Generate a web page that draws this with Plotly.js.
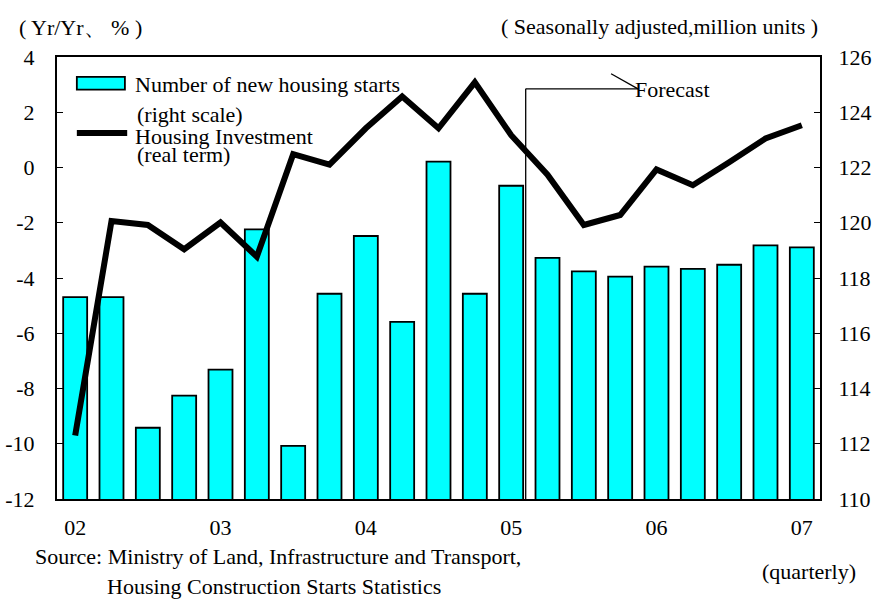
<!DOCTYPE html>
<html>
<head>
<meta charset="utf-8">
<script src="https://cdn.plot.ly/plotly-3.0.1.min.js"></script>
<style>
html,body{margin:0;padding:0;background:#fff;}
#chart{width:872px;height:599px;}
</style>
</head>
<body>
<div id="chart"></div>
<script>
// ---- data ----
const quarters = ["02Q1","02Q2","02Q3","02Q4","03Q1","03Q2","03Q3","03Q4","04Q1","04Q2","04Q3","04Q4",
                  "05Q1","05Q2","05Q3","05Q4","06Q1","06Q2","06Q3","06Q4","07Q1"];
const housingStarts = [117.31,117.31,112.58,113.74,114.68,119.76,111.92,117.43,119.52,116.41,122.21,117.43,
                       121.34,118.73,118.24,118.05,118.41,118.33,118.48,119.18,119.11];
const housingInvestment = [-9.7,-1.94,-2.08,-2.96,-1.99,-3.23,0.48,0.1,1.42,2.57,1.42,3.08,
                           1.17,-0.26,-2.08,-1.72,-0.07,-0.64,0.19,1.05,1.53];
const xTickVals = ["02Q1","03Q1","04Q1","05Q1","06Q1","07Q1"];
const xTickText = ["02","03","04","05","06","07"];
const leftTickVals = [-12,-10,-8,-6,-4,-2,0,2,4];
const leftTickText = ["-12","-10","-8","-6","-4","-2","0","2","4"];
const rightTickVals = [110,112,114,116,118,120,122,124,126];

const FONT = "Liberation Serif";
const TICKFONT = {family: FONT, size: 22, color: "#000"};
const TXT = {family: FONT, size: 22, color: "#000"};

const boundaries = [];
for (let i = 0; i < quarters.length - 1; i++) boundaries.push(i + 0.5);

const traces = [
  {type: "bar", x: quarters, y: housingStarts, yaxis: "y", name: "Number of new housing starts",
   marker: {color: "#00FFFF", line: {color: "#000", width: 1.8}}, showlegend: false, hoverinfo: "skip"},
  {type: "scatter", mode: "lines", x: quarters, y: housingInvestment, yaxis: "y2", name: "Housing Investment",
   line: {color: "#000", width: 6}, showlegend: false, hoverinfo: "skip"}
];

const layout = {
  width: 872, height: 599,
  margin: {l: 57, r: 52, t: 57, b: 100},
  paper_bgcolor: "#fff", plot_bgcolor: "rgba(0,0,0,0)",
  bargap: 0.34,
  showlegend: false,
  font: {family: FONT, color: "#000"},
  xaxis: {type: "category", categoryorder: "array", categoryarray: quarters, range: [-0.5, 20.5],
          tickvals: xTickVals, ticktext: xTickText, ticks: "", showgrid: false, zeroline: false,
          showline: true, linecolor: "#000", linewidth: 2, mirror: true,
          tickfont: TICKFONT, ticklabelstandoff: 8},
  xaxis2: {overlaying: "x", anchor: "free", position: 0.75, side: "bottom", range: [-0.5, 20.5],
           tickvals: boundaries, ticks: "inside", ticklen: 5, tickcolor: "#000", tickwidth: 1,
           showticklabels: false, showgrid: false, zeroline: false, showline: true,
           linecolor: "#000", linewidth: 1.2},
  // right-hand scale (bars)
  yaxis: {range: [110, 126], tickvals: rightTickVals, side: "right", ticks: "inside",
          ticklen: 6, tickcolor: "#000", showgrid: false, zeroline: false, showline: true,
          linecolor: "#000", linewidth: 2, tickfont: TICKFONT, ticklabelstandoff: 12},
  // left-hand scale (line), drawn on top
  yaxis2: {range: [-12, 4], tickvals: leftTickVals, ticktext: leftTickText, overlaying: "y", side: "left",
           ticks: "inside", ticklen: 6, tickcolor: "#000", showgrid: false, zeroline: false, showline: true,
           linecolor: "#000", linewidth: 2, tickfont: TICKFONT, ticklabelstandoff: 16},
  shapes: [
    // legend swatches
    {type: "rect", xref: "paper", yref: "paper", x0: 0.026, x1: 0.089, y0: 0.955, y1: 0.926,
     fillcolor: "#00FFFF", line: {color: "#000", width: 1.8}},
    {type: "line", xref: "paper", yref: "paper", x0: 0.026, x1: 0.092, y0: 0.828, y1: 0.828,
     line: {color: "#000", width: 6}},
    // forecast marker
    {type: "line", xref: "x", yref: "paper", x0: 12.4, x1: 12.4, y0: 0, y1: 0.928,
     line: {color: "#000", width: 1.3}},
    {type: "line", xref: "x", yref: "paper", x0: 12.4, x1: 15.49, y0: 0.928, y1: 0.928,
     line: {color: "#000", width: 1.3}},
    {type: "line", xref: "x", yref: "paper", x0: 14.75, x1: 15.49, y0: 0.962, y1: 0.928,
     line: {color: "#000", width: 1.3}}
  ],
  annotations: [
    {text: "( Yr/Yr、 % )", xref: "paper", yref: "paper", x: -0.053, y: 1.066, xanchor: "left", yanchor: "middle",
     showarrow: false, font: TXT},
    {text: "( Seasonally adjusted,million units )", xref: "paper", yref: "paper", x: 1.0, y: 1.068,
     xanchor: "right", yanchor: "middle", showarrow: false, font: TXT},
    {text: "Number of new housing starts", xref: "paper", yref: "paper", x: 0.0996, y: 0.937,
     xanchor: "left", yanchor: "middle", showarrow: false, font: TXT},
    {text: "(right scale)", xref: "paper", yref: "paper", x: 0.102, y: 0.869,
     xanchor: "left", yanchor: "middle", showarrow: false, font: TXT},
    {text: "Housing Investment", xref: "paper", yref: "paper", x: 0.0996, y: 0.821,
     xanchor: "left", yanchor: "middle", showarrow: false, font: TXT},
    {text: "(real term)", xref: "paper", yref: "paper", x: 0.102, y: 0.779,
     xanchor: "left", yanchor: "middle", showarrow: false, font: TXT},
    {text: "Forecast", xref: "x", yref: "paper", x: 15.35, y: 0.927,
     xanchor: "left", yanchor: "middle", showarrow: false, font: TXT},
    {text: "Source: Ministry of Land, Infrastructure and Transport,", xref: "paper", yref: "paper",
     x: -0.032, y: -0.131, xanchor: "left", yanchor: "middle", showarrow: false, font: TXT},
    {text: "Housing Construction Starts Statistics", xref: "paper", yref: "paper",
     x: 0.063, y: -0.197, xanchor: "left", yanchor: "middle", showarrow: false, font: TXT},
    {text: "(quarterly)", xref: "paper", yref: "paper", x: 1.05, y: -0.165,
     xanchor: "right", yanchor: "middle", showarrow: false, font: TXT}
  ]
};

Plotly.newPlot("chart", traces, layout, {staticPlot: true, displayModeBar: false});
</script>
</body>
</html>
